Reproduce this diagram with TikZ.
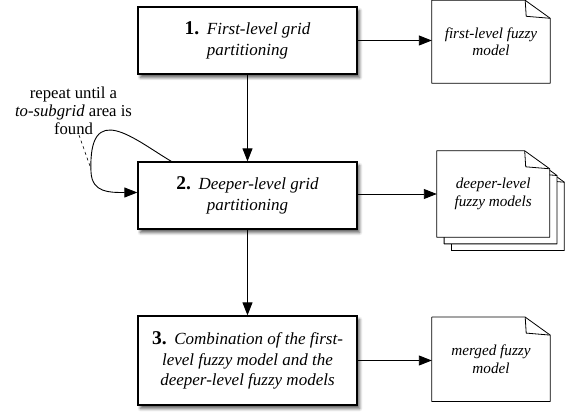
\documentclass[tikz,border=0pt]{standalone}
\usepackage{fontspec}
\setmainfont{Liberation Serif}
\usetikzlibrary{arrows.meta,shadows.blur,calc,backgrounds}
\tikzset{
  stepbox/.style={draw, line width=1.3pt, fill=white, minimum width=219pt,
    align=center, inner sep=0pt, font=\fontsize{17}{20.5}\selectfont,
    blur shadow={shadow xshift=2.5pt, shadow yshift=-3.5pt, shadow blur radius=3pt,
      shadow blur steps=6, shadow opacity=65}},
  docnode/.style={minimum width=118pt, align=center, inner sep=0pt,
    font=\fontsize{15.2}{17.5}\selectfont\itshape},
  docline/.style={line width=0.8pt, fill=white, line join=round},
  arr/.style={line width=0.9pt, -{Triangle[length=13pt,width=10pt]}},
  note/.style={align=center, inner sep=0pt, font=\fontsize{16.7}{17.8}\selectfont},
}
\newcommand{\stepnum}[1]{{\fontsize{19.5}{20.5}\selectfont\bfseries #1}\hspace{0.45em}}
\newcommand{\docpath}[1]{%
  \draw[docline] (#1.north west) -- ($(#1.north east)+(-25,0)$)
    -- ($(#1.north east)+(0,-18)$) -- (#1.south east) -- (#1.south west) -- cycle;
  \draw[docline, fill=none] ($(#1.north east)+(-25,0)$) -- ($(#1.north east)+(-24,-16)$)
    -- ($(#1.north east)+(0,-18)$);
}
\begin{document}
\begin{tikzpicture}[x=1pt, y=1pt]
\useasboundingbox (0,0) rectangle (571,-414);

% process boxes
\node[stepbox, minimum height=67pt] (b1) at (247.5,-40.5)
  {\stepnum{1.}\textit{First-level grid}\\\textit{partitioning}};
\node[stepbox, minimum height=67pt] (b2) at (247.5,-195.5)
  {\stepnum{2.}\textit{Deeper-level grid}\\\textit{partitioning}};
\node[stepbox, minimum height=89pt] (b3) at (247.5,-360.5)
  {\stepnum{3.}\textit{Combination of the first-}\\\textit{level fuzzy model and the}\\\textit{deeper-level fuzzy models}};

% documents
\node[docnode, minimum height=82.5pt] (d1) at (491,-41.75)
  {first-level fuzzy\\model};
\node[docnode, minimum width=112.5pt, minimum height=86pt] (d2c) at (507.85,-207.4) {};
\node[docnode, minimum width=112.5pt, minimum height=86pt] (d2b) at (500.55,-200.7) {};
\node[docnode, minimum width=112.5pt, minimum height=86pt] (d2) at (493.25,-194)
  {deeper-level\\fuzzy models};
\node[docnode, minimum height=84pt] (d3) at (491,-359.3)
  {merged fuzzy\\model};

\begin{scope}[on background layer]
  \docpath{d1}
  \docpath{d2c}
  \docpath{d2b}
  \docpath{d2}
  \docpath{d3}
\end{scope}

% connectors
\draw[arr] (b1.east) -- (b1.east -| d1.west);
\draw[arr] (b2.east |- d2.west) -- (d2.west);
\draw[arr] (b3.east) -- (b3.east -| d3.west);
\draw[arr] (b1.south) -- (b2.north);
\draw[arr] (b2.south) -- (b3.north);

% repeat loop
\coordinate (loopS) at ($(b2.north west)+(34,0)$);
\coordinate (loopL) at (91,-172);
\draw[arr] (loopS) .. controls (135,-140) and (88,-98) .. (loopL)
  .. controls (92,-193) and (110,-192.5) .. ($(b2.west)+(0,3)$);

\node[note] (lbl) at (73.5,-111)
  {repeat until a\\\textit{to-subgrid} area is\\found};
\coordinate (dashA) at (79,-135);
\coordinate (dashB) at (91,-169);
\draw[dashed, line width=0.6pt] (dashA) -- (dashB);
\end{tikzpicture}
\end{document}
